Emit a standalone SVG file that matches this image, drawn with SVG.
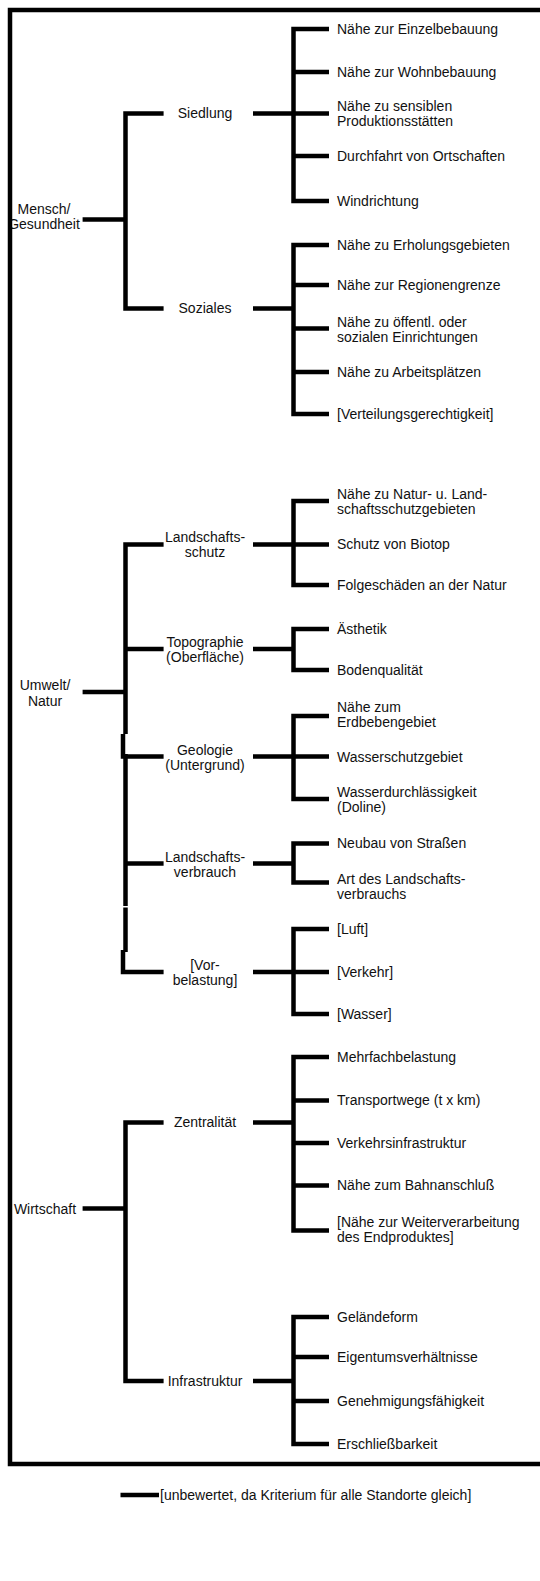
<svg xmlns="http://www.w3.org/2000/svg" width="540" height="1581" viewBox="0 0 540 1581">
<style>
.ln{fill:none;stroke:#000;stroke-width:4.5;stroke-linejoin:miter;stroke-linecap:butt}
.fr{fill:none;stroke:#000;stroke-width:4.5;stroke-linejoin:miter}
text{font-family:"Liberation Sans",Arial,Helvetica,sans-serif;font-size:14px;fill:#111}
.c{text-anchor:middle}
</style>
<rect width="540" height="1581" fill="#fff"/>
<g id="connectors">
<!-- level 0 to level 1 -->
<path class="ln" d="M82.6 219.5H125.5"/>
<path class="ln" d="M163.6 113.5H125.5V308.5H163.6"/>
<path class="ln" d="M82.6 692H125.5"/>
<path class="ln" d="M163.6 544.5H125.5V734"/>
<path class="ln" d="M125.5 649H163.6"/>
<path class="ln" d="M123 734V756.5H163.6"/>
<path class="ln" d="M125.5 754V906"/>
<path class="ln" d="M125.5 863.5H163.6"/>
<path class="ln" d="M125.5 907.5V952"/>
<path class="ln" d="M123 950V972H163.6"/>
<path class="ln" d="M82.6 1208.5H125.5"/>
<path class="ln" d="M163.6 1122.5H125.5V1381H163.6"/>
<!-- level 1 to leaves -->
<path class="ln" d="M253 113.5H329M329 29H293.5V201H329M293.5 72H329M293.5 156H329"/>
<path class="ln" d="M253 308.5H293.5M329 245H293.5V414H329M293.5 285H329M293.5 328.5H329M293.5 372H329"/>
<path class="ln" d="M253 544.5H329M329 501H293.5V585H329"/>
<path class="ln" d="M253 649H293.5M329 629H293.5V670H329"/>
<path class="ln" d="M253 756.5H329M329 716H293.5V799H329"/>
<path class="ln" d="M253 863.5H293.5M329 843.5H293.5V882.5H329"/>
<path class="ln" d="M253 972H329M329 929H293.5V1014H329"/>
<path class="ln" d="M253 1122.5H293.5M329 1057H293.5V1230.5H329M293.5 1100.5H329M293.5 1143H329M293.5 1185.5H329"/>
<path class="ln" d="M253 1381H293.5M329 1317H293.5V1444H329M293.5 1357H329M293.5 1401H329"/>
</g>
<g id="n-mensch"><text class="c" x="44" y="213.5">Mensch/</text><text class="c" x="44" y="228.5">Gesundheit</text></g>
<g id="n-umwelt"><text class="c" x="45" y="690">Umwelt/</text><text class="c" x="45" y="706">Natur</text></g>
<g id="n-wirtschaft"><text class="c" x="45" y="1213.5">Wirtschaft</text></g>
<g id="n-siedlung"><text class="c" x="205" y="118">Siedlung</text></g>
<g id="n-soziales"><text class="c" x="205" y="313">Soziales</text></g>
<g id="n-lschutz"><text class="c" x="205" y="542">Landschafts-</text><text class="c" x="205" y="557">schutz</text></g>
<g id="n-topo"><text class="c" x="205" y="646.5">Topographie</text><text class="c" x="205" y="661.5">(Oberfläche)</text></g>
<g id="n-geo"><text class="c" x="205" y="754.5">Geologie</text><text class="c" x="205" y="770">(Untergrund)</text></g>
<g id="n-lverbrauch"><text class="c" x="205" y="862">Landschafts-</text><text class="c" x="205" y="877">verbrauch</text></g>
<g id="n-vorbelastung"><text class="c" x="205" y="970">[Vor-</text><text class="c" x="205" y="985">belastung]</text></g>
<g id="n-zentral"><text class="c" x="205" y="1127">Zentralität</text></g>
<g id="n-infra"><text class="c" x="205" y="1385.5">Infrastruktur</text></g>
<g id="leaves-siedlung">
<g id="l1"><text x="337" y="33.5">Nähe zur Einzelbebauung</text></g>
<g id="l2"><text x="337" y="76.5">Nähe zur Wohnbebauung</text></g>
<g id="l3"><text x="337" y="111">Nähe zu sensiblen</text><text x="337" y="126">Produktionsstätten</text></g>
<g id="l4"><text x="337" y="160.5">Durchfahrt von Ortschaften</text></g>
<g id="l5"><text x="337" y="205.5">Windrichtung</text></g>
</g>
<g id="leaves-soziales">
<g id="l6"><text x="337" y="249.5">Nähe zu Erholungsgebieten</text></g>
<g id="l7"><text x="337" y="289.5">Nähe zur Regionengrenze</text></g>
<g id="l8"><text x="337" y="327">Nähe zu öffentl. oder</text><text x="337" y="342">sozialen Einrichtungen</text></g>
<g id="l9"><text x="337" y="376.5">Nähe zu Arbeitsplätzen</text></g>
<g id="l10"><text x="337" y="418.5">[Verteilungsgerechtigkeit]</text></g>
</g>
<g id="leaves-umwelt">
<g id="l11"><text x="337" y="498.5">Nähe zu Natur- u. Land-</text><text x="337" y="513.5">schaftsschutzgebieten</text></g>
<g id="l12"><text x="337" y="548.5">Schutz von Biotop</text></g>
<g id="l13"><text x="337" y="589.5">Folgeschäden an der Natur</text></g>
<g id="l14"><text x="337" y="633.5">Ästhetik</text></g>
<g id="l15"><text x="337" y="674.5">Bodenqualität</text></g>
<g id="l16"><text x="337" y="712">Nähe zum</text><text x="337" y="727">Erdbebengebiet</text></g>
<g id="l17"><text x="337" y="761.5">Wasserschutzgebiet</text></g>
<g id="l18"><text x="337" y="797">Wasserdurchlässigkeit</text><text x="337" y="812">(Doline)</text></g>
<g id="l19"><text x="337" y="848">Neubau von Straßen</text></g>
<g id="l20"><text x="337" y="883.5">Art des Landschafts-</text><text x="337" y="898.5">verbrauchs</text></g>
<g id="l21"><text x="337" y="933.5">[Luft]</text></g>
<g id="l22"><text x="337" y="976.5">[Verkehr]</text></g>
<g id="l23"><text x="337" y="1018.5">[Wasser]</text></g>
</g>
<g id="leaves-wirtschaft">
<g id="l24"><text x="337" y="1061.5">Mehrfachbelastung</text></g>
<g id="l25"><text x="337" y="1105">Transportwege (t x km)</text></g>
<g id="l26"><text x="337" y="1147.5">Verkehrsinfrastruktur</text></g>
<g id="l27"><text x="337" y="1190">Nähe zum Bahnanschluß</text></g>
<g id="l28"><text x="337" y="1227">[Nähe zur Weiterverarbeitung</text><text x="337" y="1242">des Endproduktes]</text></g>
<g id="l29"><text x="337" y="1321.5">Geländeform</text></g>
<g id="l30"><text x="337" y="1361.5">Eigentumsverhältnisse</text></g>
<g id="l31"><text x="337" y="1405.5">Genehmigungsfähigkeit</text></g>
<g id="l32"><text x="337" y="1448.5">Erschließbarkeit</text></g>
</g>
<g id="frame"><path class="fr" d="M545 10H10V1464H545"/></g>
<g id="legend">
<path class="ln" d="M120.5 1495H159"/>
<text x="160" y="1500">[unbewertet, da Kriterium für alle Standorte gleich]</text>
</g>
</svg>
